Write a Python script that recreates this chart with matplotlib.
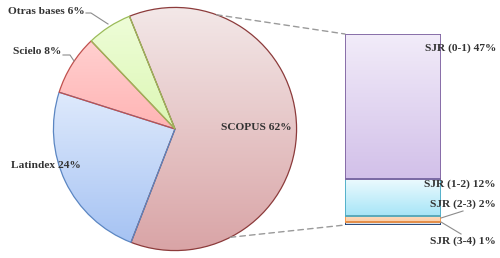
# Pie-of-bar: journal databases, with SCOPUS split by SJR quartile range
import numpy as np
import matplotlib.pyplot as plt
from matplotlib.colors import LinearSegmentedColormap
from matplotlib.patches import ConnectionPatch

# Data
pie_labels = ['SCOPUS', 'Latindex', 'Scielo', 'Otras bases']
pie_values = [62, 24, 8, 6]
bar_labels = ['SJR (3-4)', 'SJR (2-3)', 'SJR (1-2)', 'SJR (0-1)']
bar_values = [1, 2, 12, 47]

# Styles (top colour, bottom colour, edge)
pie_colors = [('#f3e8e8', '#d9a4a6', '#8c3b3b'),
              ('#dfeafc', '#a6c3f3', '#5b86c2'),
              ('#ffd0d0', '#ffb4b4', '#c0504d'),
              ('#eefdd8', '#dcf7b4', '#9bbb59')]
bar_colors = [('#dfe8f3', '#d3dfee', '#1f3f70'),
              ('#fddcc0', '#fbcfa8', '#f79646'),
              ('#ecfafe', '#a6e5f7', '#4bacc6'),
              ('#f2ecf9', '#d2c0e9', '#8064a2')]
txt = '#333333'
font = dict(family='Liberation Serif', weight='bold', size=8.2, color=txt)

W, H = 500, 258
fig = plt.figure(figsize=(W / 100, H / 100), dpi=100)


def fx(x):
    return x / W


def fy(y):
    return 1 - y / H


def gradient_fill(ax, patch, top, bottom, extent):
    cmap = LinearSegmentedColormap.from_list('g', [bottom, top])
    grad = np.linspace(0, 1, 256).reshape(-1, 1)
    im = ax.imshow(grad, cmap=cmap, extent=extent, origin='lower',
                   aspect='auto', zorder=patch.get_zorder() - 0.1)
    im.set_clip_path(patch)


# Pie
ax_pie = fig.add_axes([fx(175 - 124), (H - 129 - 124) / H, 248 / W, 248 / H])
wedges, _ = ax_pie.pie(pie_values, startangle=112, counterclock=False, radius=1,
                       wedgeprops=dict(linewidth=0.9))
for w, (top, bot, edge) in zip(wedges, pie_colors):
    w.set_facecolor('none')
    w.set_edgecolor(edge)
    w.set_zorder(3)
    bb = w.get_path().get_extents()
    gradient_fill(ax_pie, w, top, bot, [bb.x0, bb.x1, bb.y0, bb.y1])
ax_pie.set_xlim(-1.02, 1.02)
ax_pie.set_ylim(-1.02, 1.02)
ax_pie.set_aspect('equal')
ax_pie.axis('off')

# Stacked bar
ax_bar = fig.add_axes([fx(345), (H - 225) / H, 96 / W, 191 / H])
bottom = 0
for val, (top, bot, edge) in zip(bar_values, bar_colors):
    rect = ax_bar.bar(0, val, bottom=bottom, width=1, facecolor='none',
                      edgecolor=edge, linewidth=1.3, zorder=3)[0]
    gradient_fill(ax_bar, rect, top, bot, [-0.5, 0.5, bottom, bottom + val])
    bottom += val
ax_bar.set_xlim(-0.5, 0.5)
ax_bar.set_ylim(0, sum(bar_values))
ax_bar.axis('off')

# Dashed connectors
for ang, yb in [(70, 1), (-63, 0)]:
    a = np.deg2rad(ang)
    con = ConnectionPatch(xyA=(np.cos(a), np.sin(a)), coordsA=ax_pie.transData,
                          xyB=(0, yb), coordsB=ax_bar.transAxes,
                          color='#9a9a9a', linestyle=(0, (4, 3)), linewidth=1)
    fig.add_artist(con)

# Pie labels
pie_pos = {'SCOPUS': (221, 128, 'left'), 'Latindex': (11, 165, 'left'),
           'Scielo': (13, 52, 'left'), 'Otras bases': (8, 11, 'left')}
for lab, val in zip(pie_labels, pie_values):
    x, y, ha = pie_pos[lab]
    fig.text(fx(x), fy(y), f'{lab} {val}%', ha=ha, va='center', **font)

# Bar labels
bar_pos = {'SJR (0-1)': 48, 'SJR (1-2)': 184, 'SJR (2-3)': 204, 'SJR (3-4)': 241}
for lab, val in zip(bar_labels, bar_values):
    fig.text(fx(496), fy(bar_pos[lab]), f'{lab} {val}%', ha='right', va='center', **font)

# Leader lines
leaders = [[(86, 13), (91, 13), (108, 24)],
           [(63, 55), (70, 55), (74, 61)],
           [(463, 211), (441, 218)],
           [(441, 222), (461, 234)]]
for pts in leaders:
    xs = [fx(p[0]) for p in pts]
    ys = [fy(p[1]) for p in pts]
    fig.add_artist(plt.Line2D(xs, ys, color='#8c8c8c', linewidth=0.8))

fig.savefig('out.png', dpi=100)
